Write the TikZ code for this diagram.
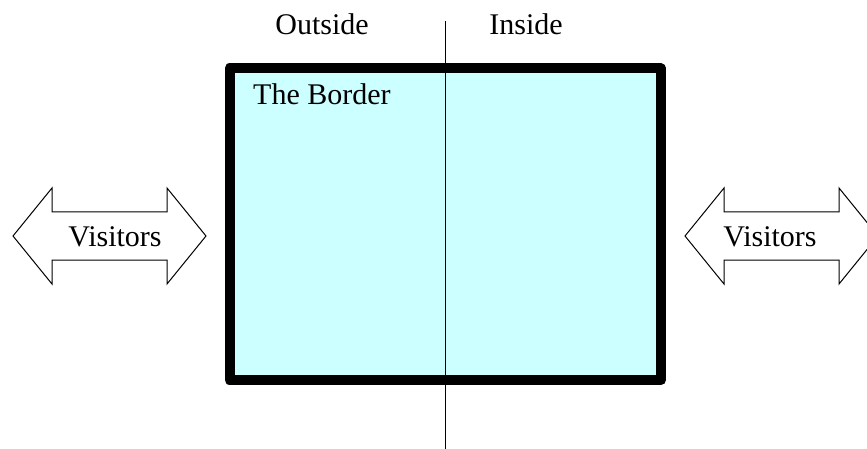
\documentclass[tikz,border=0pt]{standalone}
\usepackage{fontspec}
\setmainfont{Liberation Serif}
\usetikzlibrary{positioning}

\begin{document}
\begin{tikzpicture}[x=1pt, y=-1pt,
          txt/.style={font=\fontsize{30}{36}\selectfont, inner sep=0pt},
          borderbox/.style={draw, line width=10pt, line join=round,
            fill={rgb,255:red,204;green,255;blue,255}},
          divide/.style={line width=1.5pt},
          visitors/.pic={
            \draw[line width=1pt, fill=white, line join=miter]
              (-96.5,0) -- (-57.5,-48) -- (-57.5,-24) -- (57.5,-24)
              -- (57.5,-48) -- (96.5,0) -- (57.5,48) -- (57.5,24)
              -- (-57.5,24) -- (-57.5,48) -- cycle;
          },
        ]
          \useasboundingbox (0,0) rectangle (867,449);
          \coordinate (top)    at (445.5, 21);
          \coordinate (bottom) at (445.5, 449);
          \coordinate (la)     at (109.5, 236);
          \coordinate (ra)     at (781.5, 236);
          % the border itself
          \draw[borderbox] (229.5,68.5) rectangle (661,380);
          \draw[divide] (top) -- (bottom);
          % visitors on both sides
          \pic at (la) {visitors};
          \pic at (ra) {visitors};
          \node[txt, anchor=base] (lv) at (115,246.5) {Visitors};
          \node[txt, anchor=base] (rv) at (770,246.5) {Visitors};
          \node[txt, anchor=base] (out) at (322,35) {Outside};
          \node[txt, anchor=base] (in)  at (526,35) {Inside};
          \node[txt, anchor=base west] (brd) at (253,104.5) {The Border};
        \end{tikzpicture}
\end{document}
